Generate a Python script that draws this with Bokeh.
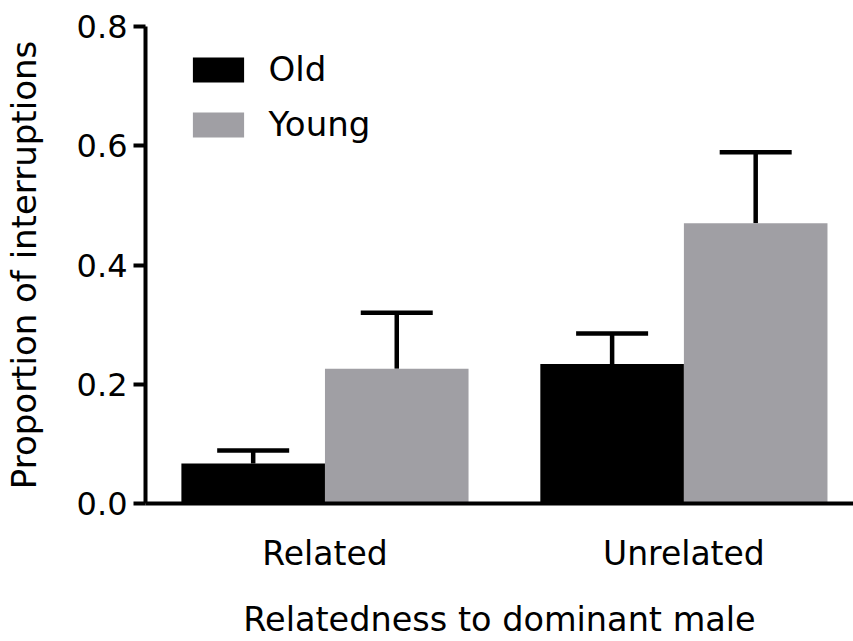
from bokeh.plotting import figure
from bokeh.models import (ColumnDataSource, Whisker, TeeHead, FixedTicker,
                          Legend, LegendItem, Range1d)
from bokeh.embed import file_html
from bokeh.resources import INLINE

# ---- data ----
groups = ["Related", "Unrelated"]
group_pos = [1, 2]
ages = ["Old", "Young"]
old_mean = [0.067, 0.234]
old_sem = [0.022, 0.051]
young_mean = [0.226, 0.470]
young_sem = [0.094, 0.119]
y_ticks = [0.0, 0.2, 0.4, 0.6, 0.8]
y_tick_labels = ["0.0", "0.2", "0.4", "0.6", "0.8"]
x_title = "Relatedness to dominant male"
y_title = "Proportion of interruptions"
colors = ["#000000", "#a09fa4"]

FONT = "DejaVu Sans"
BAR_W = 0.4

p = figure(width=853, height=641,
           x_range=Range1d(0.5, 2.4725), y_range=Range1d(0, 0.8),
           output_backend="svg", toolbar_location=None,
           min_border_left=145, min_border_right=0,
           min_border_top=26, min_border_bottom=137)
p.outline_line_color = None
p.xgrid.visible = False
p.ygrid.visible = False
p.background_fill_color = "white"
p.border_fill_color = "white"

renderers = []
for off, means, sems, col in [(-BAR_W / 2, old_mean, old_sem, colors[0]),
                              (BAR_W / 2, young_mean, young_sem, colors[1])]:
    src = ColumnDataSource(dict(
        x=[g + off for g in group_pos],
        top=means,
        upper=[m + s for m, s in zip(means, sems)],
    ))
    r = p.vbar(x="x", top="top", bottom=0, width=BAR_W, source=src,
               fill_color=col, line_color=None)
    renderers.append(r)
    w = Whisker(base="x", lower="top", upper="upper", source=src,
                line_width=4.5, line_color="black",
                upper_head=TeeHead(size=72, line_width=4.5, line_color="black"),
                lower_head=None)
    p.add_layout(w)

legend = Legend(items=[LegendItem(label=ages[i], renderers=[renderers[i]]) for i in range(2)],
                location=(40.6, 359), orientation="vertical",
                glyph_width=64, glyph_height=31, label_standoff=19,
                spacing=15, padding=0, margin=0,
                label_text_font=FONT, label_text_font_size="34px",
                label_text_color="black",
                background_fill_alpha=0, border_line_color=None)
p.add_layout(legend)

# y axis
ya = p.yaxis[0]
ya.ticker = FixedTicker(ticks=y_ticks)
ya.major_label_overrides = {t: l for t, l in zip(y_ticks, y_tick_labels)}
ya.bounds = (0, 0.8)
ya.axis_label = y_title
ya.axis_line_width = 4
ya.major_tick_line_width = 4
ya.major_tick_out = 12
ya.major_tick_in = 0
ya.minor_tick_line_color = None
ya.major_label_standoff = 6
ya.axis_label_standoff = 30
ya.major_label_text_font = FONT
ya.major_label_text_font_size = "32px"
ya.major_label_text_color = "black"
ya.axis_label_text_font = FONT
ya.axis_label_text_font_size = "34px"
ya.axis_label_text_font_style = "normal"
ya.axis_label_text_color = "black"

# x axis
xa = p.xaxis[0]
xa.ticker = FixedTicker(ticks=group_pos)
xa.major_label_overrides = {g: n for g, n in zip(group_pos, groups)}
xa.axis_label = x_title
xa.axis_line_width = 4
xa.major_tick_line_color = None
xa.major_tick_out = 0
xa.major_tick_in = 0
xa.minor_tick_line_color = None
xa.major_label_standoff = 30
xa.axis_label_standoff = 24
xa.major_label_text_font = FONT
xa.major_label_text_font_size = "33px"
xa.major_label_text_color = "black"
xa.axis_label_text_font = FONT
xa.axis_label_text_font_size = "33.5px"
xa.axis_label_text_font_style = "normal"
xa.axis_label_text_color = "black"

open("out.html", "w").write(file_html(p, INLINE))
